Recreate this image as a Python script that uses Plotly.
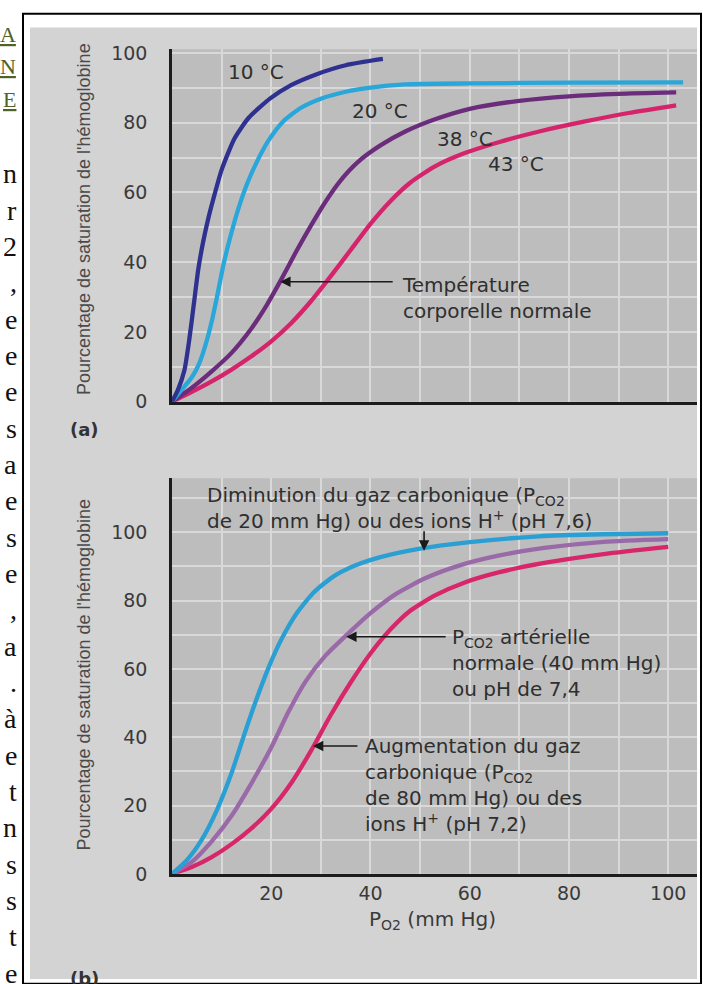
import plotly.graph_objects as go

W, H = 703, 984

# ---------------- data (a) : temperature ----------------
po2_10C = [0, 1.2, 2.5, 3.5, 4.4, 5.3, 6.3, 7.3, 8.3, 10, 12.6, 15.5, 19.8, 24, 28.9, 35, 42.5]
sat_10C = [0, 3.4, 9, 18, 28, 38, 46, 52.5, 58, 66.5, 75.5, 81.5, 87, 90.8, 93.8, 96.5, 98.3]

po2_20C = [0, 2, 4, 5.5, 6.8, 8, 9.2, 10.4, 11.8, 13.3, 15, 17, 19.5, 22.5, 26, 30, 35, 40, 47, 60, 80, 103]
sat_20C = [0, 3.5, 7, 11, 16.5, 23, 31, 39.5, 47.5, 55, 62, 68.5, 75, 80.5, 84.3, 86.9, 88.9, 90.1, 91, 91.3, 91.5, 91.6]

po2_38C = [0, 4, 8, 12, 16, 19, 22, 25, 28, 31, 34, 37.5, 42, 47, 53, 60, 70, 80, 90, 101.6]
sat_38C = [0, 4, 8.7, 14, 21, 27.5, 35, 43, 50.5, 57.5, 63.5, 68.8, 73.5, 77.5, 81, 84, 86.3, 87.6, 88.3, 88.7]

po2_43C = [0, 4, 8, 12, 16, 20, 24, 28, 32, 36, 40, 44, 48, 53, 59, 66, 74, 83, 92, 101.6]
sat_43C = [0, 2.8, 5.8, 9.2, 13, 17.3, 22.5, 28.8, 36, 43.5, 51, 57.5, 62.8, 67.5, 71.3, 74.5, 77.5, 80.3, 82.8, 85]

# ---------------- data (b) : CO2 / pH ----------------
po2_ph76 = [0, 3, 6, 9, 12, 14.5, 17, 19.5, 22, 25, 28.5, 32.5, 37, 42, 50, 60, 74, 87, 100]
sat_ph76 = [0, 4, 10, 18.5, 29.5, 40.5, 51, 60.5, 68.5, 76, 82.3, 87, 90.3, 92.7, 95.2, 97.1, 98.8, 99.4, 99.7]

po2_ph74 = [0, 4, 8, 12, 16, 20, 23.5, 27, 31, 35.4, 40, 45, 51, 58, 66, 75, 87, 100]
sat_ph74 = [0, 3.5, 9.5, 17, 26.5, 37, 47.5, 56.5, 64, 70.2, 76.3, 81.8, 86.5, 90.3, 93.2, 95.4, 97.2, 98]

po2_ph72 = [0, 4, 8, 12, 16, 20, 24, 28, 32, 36, 40, 44, 48, 53, 59, 66, 75, 87, 100]
sat_ph72 = [0, 2, 4.9, 8.7, 13.3, 19, 26.5, 36, 46.5, 56, 64.5, 71.5, 77, 81.5, 85.3, 88.3, 91, 93.6, 95.7]

# ---------------- ticks ----------------
y_ticks = [0, 20, 40, 60, 80, 100]
y_ticklabels = ["0", "20", "40", "60", "80", "100"]
x_ticks = [20, 40, 60, 80, 100]
x_ticklabels = ["20", "40", "60", "80", "100"]

left_margin_letters = ["n", "r", "2", ",", "e", "e", "e", "s", "a", "e", "s", "e",
                       ",", "a", ".", "à", "e", "t", "n", "s", "s", "t", "e"]
left_margin_green = ["A", "N", "E"]

ytitle = "Pourcentage de saturation de l'hémoglobine"


def px(x):
    return x / W


def py(y):
    return 1 - y / H


FONT = "DejaVu Sans"
TXT = "#2f2f2f"

C10 = "#2e3190"
C20 = "#29a6da"
C38 = "#6c2c7c"
C43 = "#d6246c"
CB76 = "#2a9fd3"
CB74 = "#9a69a8"
CB72 = "#d8266a"

fig = go.Figure()


def add_line(x, y, color, xa, ya):
    fig.add_trace(go.Scatter(x=x, y=y, mode="lines", xaxis=xa, yaxis=ya,
                             line=dict(color=color, width=4.3, shape="spline", smoothing=0.6),
                             hoverinfo="skip", showlegend=False))


add_line(po2_43C, sat_43C, C43, "x", "y")
add_line(po2_38C, sat_38C, C38, "x", "y")
add_line(po2_20C, sat_20C, C20, "x", "y")
add_line(po2_10C, sat_10C, C10, "x", "y")

add_line(po2_ph72, sat_ph72, CB72, "x2", "y2")
add_line(po2_ph74, sat_ph74, CB74, "x2", "y2")
add_line(po2_ph76, sat_ph76, CB76, "x2", "y2")

GRID = "#d9d9d9"
axis_common = dict(showline=True, linecolor="#1c1c1c", linewidth=2.5, ticks="",
                   showgrid=True, gridcolor=GRID, gridwidth=2, zeroline=False,
                   minor=dict(dtick=10, tick0=0, showgrid=True, gridcolor=GRID, gridwidth=2),
                   tickfont=dict(family=FONT, size=19, color="#3a3a3a"))

XDOM = [px(172), px(697)]
XR = [0, 105.8]

fig.update_layout(
    width=W, height=H,
    margin=dict(l=0, r=0, t=0, b=0),
    paper_bgcolor="white",
    plot_bgcolor="rgba(0,0,0,0)",
    xaxis=dict(domain=XDOM, range=XR, anchor="y", tickvals=x_ticks, showticklabels=False,
               **axis_common),
    yaxis=dict(domain=[py(402), py(43)], range=[0, 101.1], anchor="x",
               tickvals=y_ticks, ticktext=y_ticklabels, ticklabelstandoff=18, **axis_common),
    xaxis2=dict(domain=XDOM, range=XR, anchor="y2", tickvals=x_ticks, ticktext=x_ticklabels,
                ticklabelstandoff=1, **axis_common),
    yaxis2=dict(domain=[py(883), py(480)], range=[0, 115.8], anchor="x2",
                tickvals=y_ticks, ticktext=y_ticklabels, ticklabelstandoff=18, **axis_common),
)

# backgrounds & frame
shapes = [
    dict(type="rect", xref="paper", yref="paper", x0=px(30), x1=px(697), y0=py(990), y1=py(21),
         fillcolor="#d3d3d3", line=dict(width=0), layer="below"),
    dict(type="rect", xref="paper", yref="paper", x0=px(172), x1=px(697), y0=py(402), y1=py(43),
         fillcolor="#bdbdbd", line=dict(width=0), layer="below"),
    dict(type="rect", xref="paper", yref="paper", x0=px(172), x1=px(697), y0=py(883), y1=py(480),
         fillcolor="#bdbdbd", line=dict(width=0), layer="below"),
    dict(type="rect", xref="paper", yref="paper", x0=px(23), x1=px(701), y0=py(995), y1=py(7),
         line=dict(color="black", width=2), fillcolor="rgba(0,0,0,0)", layer="above"),
]
fig.update_layout(shapes=shapes)

ann = []


def text(x, y, s, xref="x", yref="y", size=20, xanchor="left", yanchor="middle",
         color=TXT, family=FONT, **kw):
    ann.append(dict(x=x, y=y, xref=xref, yref=yref, text=s, showarrow=False,
                    xanchor=xanchor, yanchor=yanchor, align="left",
                    font=dict(family=family, size=size, color=color), **kw))


def arrow(x, y, ax, ay, xref="x", yref="y"):
    ann.append(dict(x=x, y=y, xref=xref, yref=yref, ax=ax, ay=ay, text="", showarrow=True,
                    arrowhead=2, arrowsize=1.3, arrowwidth=1.6, arrowcolor="#1a1a1a"))


# panel (a) labels
text(16.9, 94.5, "10 °C", xanchor="center")
text(41.9, 83.5, "20 °C", xanchor="center")
text(59.1, 75.3, "38 °C", xanchor="center")
text(69.4, 68.3, "43 °C", xanchor="center")
text(46.0, 37.5, "Température<br>corporelle normale", yanchor="top")
arrow(21.8, 34.4, 114, 0)

# panel (b) labels
text(6.6, 115.0, "Diminution du gaz carbonique (P<sub>CO2</sub><br>"
     "de 20 mm Hg) ou des ions H<sup>+</sup> (pH 7,6)", xref="x2", yref="y2", yanchor="top")
arrow(50.8, 94.6, 0, -21, xref="x2", yref="y2")

text(56.0, 73.3, "P<sub>CO2</sub> artérielle<br>normale (40 mm Hg)<br>ou pH de 7,4",
     xref="x2", yref="y2", yanchor="top")
arrow(35.1, 69.4, 101, 0, xref="x2", yref="y2")

text(38.5, 41.4, "Augmentation du gaz<br>carbonique (P<sub>CO2</sub><br>"
     "de 80 mm Hg) ou des<br>ions H<sup>+</sup> (pH 7,2)", xref="x2", yref="y2", yanchor="top")
arrow(28.4, 37.4, 46, 0, xref="x2", yref="y2")

# axis titles
text(px(84), py(216), ytitle, xref="paper", yref="paper", size=18, xanchor="center",
     color="#4a4a4a", family="Liberation Sans", textangle=-90)
text(px(84), py(680), ytitle, xref="paper", yref="paper", size=18, xanchor="center",
     color="#4a4a4a", family="Liberation Sans", textangle=-90)
text(px(433), py(930), "P<sub>O2</sub> (mm Hg)", xref="paper", yref="paper", size=20,
     xanchor="center", color="#3a3a3a")
text(px(68), py(430), "<b>(a)</b>", xref="paper", yref="paper", size=18, color="#333333")
text(px(68), py(990), "<b>(b)</b>", xref="paper", yref="paper", size=18, color="#333333")

# margin of the facing page
for i, ch in enumerate(left_margin_letters):
    text(px(19), py(170 + 37 * i), ch, xref="paper", yref="paper", size=28, xanchor="right",
         color="#111111", family="Liberation Serif")
for i, ch in enumerate(left_margin_green):
    text(px(18), py(28 + 33 * i), "<u>" + ch + "</u>", xref="paper", yref="paper", size=22,
         xanchor="right", color="#4f6228", family="Liberation Serif")

fig.update_layout(annotations=ann)

fig.write_html("out.html",
               config={"displayModeBar": False},
               post_script="document.body.style.margin='0';document.body.style.overflow='hidden';")
